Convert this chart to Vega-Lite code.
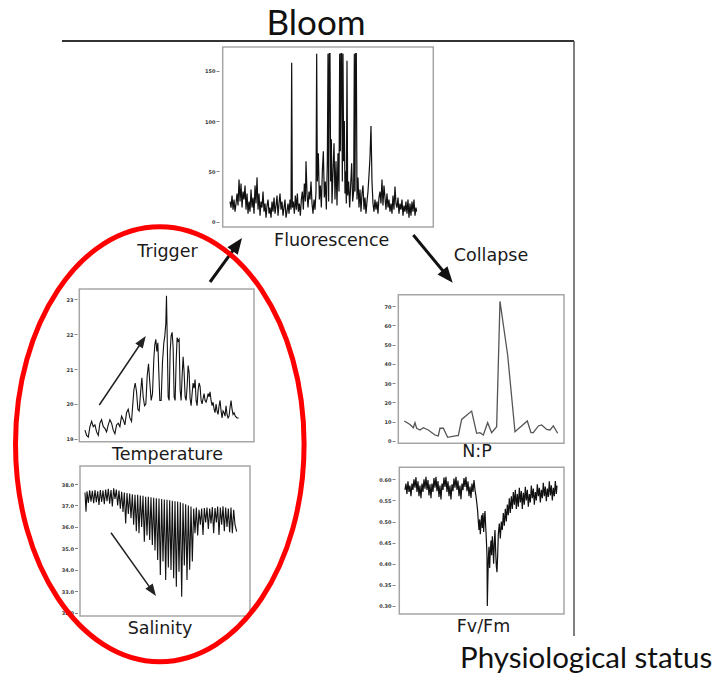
{
  "$schema": "https://vega.github.io/schema/vega-lite/v6.json",
  "width": 717,
  "height": 678,
  "autosize": {"type": "none"},
  "padding": 0,
  "background": "white",
  "config": {
    "view": {"stroke": null},
    "axis": {"grid": false, "domain": false, "tickSize": 3, "tickColor": "#666", "tickWidth": 0.8, "labelFontSize": 5, "labelFont": "DejaVu Sans", "labelFontWeight": "bold", "labelColor": "#3a3a3a", "labelPadding": 1}
  },
  "datasets": {
    "fluor": [
      {"t":90,"v":20},{"t":93,"v":14},{"t":96,"v":26},{"t":99,"v":12},{"t":102,"v":22},{"t":105,"v":10},{"t":108,"v":18},{"t":111,"v":28},{"t":114,"v":16},{"t":117,"v":42},{"t":120,"v":20},{"t":123,"v":38},{"t":126,"v":14},{"t":129,"v":30},{"t":132,"v":22},{"t":135,"v":36},{"t":138,"v":12},{"t":141,"v":28},{"t":144,"v":8},{"t":147,"v":20},{"t":150,"v":10},{"t":153,"v":32},{"t":156,"v":14},{"t":159,"v":24},{"t":162,"v":8},{"t":165,"v":36},{"t":168,"v":18},{"t":171,"v":44},{"t":174,"v":12},{"t":177,"v":28},{"t":180,"v":6},{"t":183,"v":20},{"t":186,"v":14},{"t":189,"v":30},{"t":192,"v":10},{"t":195,"v":18},{"t":198,"v":4},{"t":201,"v":16},{"t":204,"v":22},{"t":207,"v":8},{"t":210,"v":14},{"t":213,"v":4},{"t":216,"v":20},{"t":219,"v":10},{"t":222,"v":24},{"t":225,"v":8},{"t":228,"v":16},{"t":231,"v":26},{"t":234,"v":6},{"t":237,"v":18},{"t":240,"v":28},{"t":243,"v":12},{"t":246,"v":20},{"t":249,"v":6},{"t":252,"v":14},{"t":255,"v":22},{"t":258,"v":4},{"t":261,"v":10},{"t":264,"v":18},{"t":267,"v":8},{"t":270,"v":22},{"t":273,"v":12},{"t":275,"v":158},{"t":277,"v":14},{"t":280,"v":20},{"t":283,"v":8},{"t":286,"v":26},{"t":289,"v":12},{"t":292,"v":28},{"t":295,"v":10},{"t":298,"v":18},{"t":301,"v":6},{"t":304,"v":22},{"t":307,"v":30},{"t":310,"v":12},{"t":313,"v":38},{"t":316,"v":20},{"t":318,"v":60},{"t":321,"v":28},{"t":324,"v":14},{"t":327,"v":30},{"t":330,"v":22},{"t":333,"v":40},{"t":336,"v":18},{"t":339,"v":8},{"t":342,"v":22},{"t":345,"v":12},{"t":348,"v":30},{"t":350,"v":167},{"t":352,"v":40},{"t":355,"v":68},{"t":358,"v":22},{"t":361,"v":36},{"t":364,"v":14},{"t":367,"v":50},{"t":370,"v":70},{"t":373,"v":24},{"t":376,"v":40},{"t":379,"v":12},{"t":382,"v":60},{"t":384,"v":167},{"t":386,"v":20},{"t":388,"v":167},{"t":390,"v":167},{"t":392,"v":40},{"t":394,"v":82},{"t":396,"v":18},{"t":399,"v":50},{"t":402,"v":78},{"t":405,"v":22},{"t":408,"v":60},{"t":411,"v":16},{"t":414,"v":68},{"t":417,"v":30},{"t":419,"v":167},{"t":421,"v":70},{"t":423,"v":167},{"t":425,"v":167},{"t":427,"v":40},{"t":429,"v":167},{"t":431,"v":60},{"t":433,"v":100},{"t":435,"v":28},{"t":437,"v":50},{"t":439,"v":18},{"t":441,"v":160},{"t":443,"v":26},{"t":446,"v":40},{"t":449,"v":14},{"t":452,"v":36},{"t":455,"v":58},{"t":458,"v":20},{"t":461,"v":30},{"t":463,"v":167},{"t":465,"v":30},{"t":467,"v":167},{"t":469,"v":167},{"t":471,"v":22},{"t":474,"v":44},{"t":477,"v":14},{"t":480,"v":32},{"t":483,"v":10},{"t":486,"v":28},{"t":489,"v":36},{"t":492,"v":12},{"t":495,"v":24},{"t":498,"v":8},{"t":501,"v":20},{"t":504,"v":30},{"t":507,"v":46},{"t":510,"v":64},{"t":513,"v":95},{"t":516,"v":40},{"t":519,"v":18},{"t":522,"v":10},{"t":525,"v":22},{"t":528,"v":12},{"t":531,"v":20},{"t":534,"v":8},{"t":537,"v":24},{"t":540,"v":30},{"t":543,"v":18},{"t":546,"v":42},{"t":549,"v":16},{"t":552,"v":36},{"t":555,"v":24},{"t":558,"v":12},{"t":561,"v":28},{"t":564,"v":14},{"t":567,"v":22},{"t":570,"v":10},{"t":573,"v":18},{"t":576,"v":8},{"t":579,"v":26},{"t":582,"v":12},{"t":585,"v":35},{"t":588,"v":18},{"t":591,"v":14},{"t":594,"v":24},{"t":597,"v":8},{"t":600,"v":18},{"t":603,"v":12},{"t":606,"v":22},{"t":609,"v":6},{"t":612,"v":16},{"t":615,"v":10},{"t":618,"v":20},{"t":621,"v":8},{"t":624,"v":22},{"t":627,"v":4},{"t":630,"v":18},{"t":633,"v":6},{"t":636,"v":20},{"t":639,"v":10},{"t":642,"v":22},{"t":645,"v":6},{"t":648,"v":14},{"t":650,"v":10}
    ],
    "temp": [
      {"t":75,"v":19.25},{"t":80,"v":19.1},{"t":85,"v":19.05},{"t":90,"v":19.35},{"t":95,"v":19.5},{"t":100,"v":19.35},{"t":105,"v":19.4},{"t":110,"v":19.2},{"t":115,"v":19.1},{"t":120,"v":19.45},{"t":125,"v":19.55},{"t":130,"v":19.35},{"t":135,"v":19.3},{"t":140,"v":19.2},{"t":145,"v":19.4},{"t":150,"v":19.55},{"t":155,"v":19.45},{"t":160,"v":19.25},{"t":165,"v":19.15},{"t":170,"v":19.4},{"t":175,"v":19.45},{"t":180,"v":19.35},{"t":185,"v":19.65},{"t":190,"v":19.55},{"t":195,"v":19.4},{"t":200,"v":19.75},{"t":205,"v":19.85},{"t":210,"v":19.6},{"t":215,"v":19.5},{"t":218,"v":19.9},{"t":222,"v":20.4},{"t":226,"v":20.6},{"t":230,"v":20.35},{"t":234,"v":19.85},{"t":238,"v":19.8},{"t":242,"v":20.3},{"t":246,"v":20.75},{"t":250,"v":20.2},{"t":254,"v":19.95},{"t":258,"v":20.0},{"t":262,"v":20.8},{"t":266,"v":21.15},{"t":270,"v":20.6},{"t":274,"v":20.1},{"t":278,"v":20.3},{"t":282,"v":21.3},{"t":285,"v":21.7},{"t":288,"v":21.85},{"t":291,"v":21.5},{"t":294,"v":21.75},{"t":297,"v":20.9},{"t":300,"v":20.1},{"t":304,"v":20.1},{"t":308,"v":21.2},{"t":312,"v":21.75},{"t":315,"v":21.95},{"t":318,"v":22.3},{"t":320,"v":23.1},{"t":322,"v":22.0},{"t":325,"v":20.2},{"t":328,"v":20.1},{"t":331,"v":21.5},{"t":334,"v":21.95},{"t":337,"v":22.05},{"t":340,"v":21.6},{"t":343,"v":20.2},{"t":346,"v":20.1},{"t":349,"v":21.2},{"t":352,"v":21.9},{"t":355,"v":21.8},{"t":358,"v":21.85},{"t":361,"v":20.4},{"t":364,"v":20.1},{"t":367,"v":20.8},{"t":370,"v":21.35},{"t":373,"v":20.9},{"t":376,"v":20.2},{"t":379,"v":20.1},{"t":382,"v":20.5},{"t":385,"v":21.1},{"t":388,"v":20.9},{"t":391,"v":20.15},{"t":394,"v":19.95},{"t":397,"v":20.3},{"t":400,"v":20.6},{"t":403,"v":20.45},{"t":406,"v":20.7},{"t":409,"v":20.1},{"t":412,"v":19.95},{"t":415,"v":20.4},{"t":418,"v":20.6},{"t":421,"v":20.5},{"t":424,"v":20.1},{"t":427,"v":20.0},{"t":430,"v":20.15},{"t":433,"v":20.3},{"t":436,"v":20.1},{"t":439,"v":20.05},{"t":442,"v":20.15},{"t":445,"v":20.3},{"t":448,"v":20.2},{"t":451,"v":20.35},{"t":454,"v":20.1},{"t":457,"v":19.95},{"t":460,"v":20.05},{"t":463,"v":19.85},{"t":466,"v":19.75},{"t":469,"v":20.0},{"t":472,"v":19.8},{"t":475,"v":19.7},{"t":478,"v":19.95},{"t":481,"v":20.1},{"t":484,"v":19.8},{"t":487,"v":19.6},{"t":490,"v":19.8},{"t":493,"v":19.75},{"t":496,"v":19.65},{"t":499,"v":19.95},{"t":502,"v":19.7},{"t":505,"v":19.6},{"t":508,"v":19.65},{"t":511,"v":19.9},{"t":514,"v":20.1},{"t":517,"v":19.85},{"t":520,"v":19.7},{"t":523,"v":19.75},{"t":527,"v":19.65},{"t":532,"v":19.6},{"t":537,"v":19.6}
    ],
    "sal": [
      {"t":75,"v":37.6},{"t":78,"v":36.71},{"t":81,"v":37.66},{"t":85,"v":37.12},{"t":89,"v":37.7},{"t":93,"v":37.18},{"t":97,"v":37.68},{"t":101,"v":37.1},{"t":105,"v":37.72},{"t":109,"v":37.15},{"t":113,"v":37.66},{"t":117,"v":37.02},{"t":121,"v":37.72},{"t":125,"v":37.16},{"t":129,"v":37.7},{"t":133,"v":37.06},{"t":137,"v":37.74},{"t":141,"v":37.2},{"t":145,"v":37.78},{"t":149,"v":37.08},{"t":153,"v":37.72},{"t":157,"v":36.95},{"t":161,"v":37.8},{"t":165,"v":37.3},{"t":169,"v":37.74},{"t":173,"v":37.0},{"t":177,"v":37.7},{"t":181,"v":36.85},{"t":185,"v":37.64},{"t":189,"v":36.7},{"t":193,"v":37.6},{"t":197,"v":36.16},{"t":201,"v":37.58},{"t":205,"v":36.6},{"t":209,"v":37.55},{"t":213,"v":36.4},{"t":217,"v":37.52},{"t":221,"v":36.1},{"t":225,"v":37.5},{"t":229,"v":35.8},{"t":233,"v":37.5},{"t":237,"v":35.7},{"t":241,"v":37.46},{"t":245,"v":36.0},{"t":249,"v":37.45},{"t":253,"v":35.3},{"t":257,"v":37.4},{"t":261,"v":35.6},{"t":265,"v":37.4},{"t":269,"v":35.39},{"t":273,"v":37.38},{"t":277,"v":35.15},{"t":281,"v":37.36},{"t":285,"v":34.9},{"t":289,"v":37.34},{"t":293,"v":34.45},{"t":297,"v":37.32},{"t":301,"v":33.75},{"t":305,"v":37.3},{"t":309,"v":34.38},{"t":313,"v":37.28},{"t":317,"v":33.52},{"t":321,"v":37.26},{"t":325,"v":34.1},{"t":329,"v":37.24},{"t":333,"v":33.99},{"t":337,"v":37.22},{"t":341,"v":33.6},{"t":345,"v":37.2},{"t":349,"v":33.21},{"t":353,"v":37.18},{"t":357,"v":33.9},{"t":361,"v":37.15},{"t":365,"v":32.74},{"t":369,"v":37.1},{"t":373,"v":34.2},{"t":377,"v":37.05},{"t":381,"v":33.52},{"t":385,"v":37.0},{"t":389,"v":34.0},{"t":393,"v":36.95},{"t":397,"v":34.38},{"t":401,"v":36.85},{"t":405,"v":35.7},{"t":409,"v":36.9},{"t":413,"v":35.6},{"t":417,"v":36.8},{"t":421,"v":36.1},{"t":425,"v":36.85},{"t":429,"v":35.62},{"t":433,"v":36.88},{"t":437,"v":36.2},{"t":441,"v":36.9},{"t":445,"v":35.9},{"t":449,"v":36.85},{"t":453,"v":36.16},{"t":457,"v":36.92},{"t":461,"v":35.7},{"t":465,"v":36.88},{"t":469,"v":36.2},{"t":473,"v":36.95},{"t":477,"v":35.62},{"t":481,"v":36.9},{"t":485,"v":36.1},{"t":489,"v":36.96},{"t":493,"v":35.8},{"t":497,"v":36.9},{"t":501,"v":36.0},{"t":505,"v":36.85},{"t":509,"v":35.75},{"t":513,"v":36.9},{"t":517,"v":35.7},{"t":521,"v":36.8},{"t":525,"v":36.1},{"t":530,"v":35.78}
    ],
    "np": [
      {"t":118,"v":10.4},{"t":135,"v":8.6},{"t":145,"v":6.9},{"t":150,"v":9.5},{"t":155,"v":6.6},{"t":165,"v":5.7},{"t":175,"v":6.9},{"t":190,"v":5.7},{"t":210,"v":3.1},{"t":220,"v":2.6},{"t":225,"v":6.6},{"t":235,"v":6.6},{"t":248,"v":1.9},{"t":275,"v":2.8},{"t":280,"v":2.8},{"t":290,"v":11.2},{"t":320,"v":15.5},{"t":335,"v":4.0},{"t":345,"v":4.3},{"t":355,"v":3.1},{"t":368,"v":9.5},{"t":380,"v":4.3},{"t":395,"v":7.4},{"t":405,"v":72.5},{"t":428,"v":44.6},{"t":450,"v":4.8},{"t":487,"v":10.4},{"t":498,"v":4.3},{"t":505,"v":4.3},{"t":520,"v":7.8},{"t":530,"v":8.3},{"t":545,"v":6.0},{"t":555,"v":5.7},{"t":565,"v":7.8},{"t":578,"v":4.0}
    ],
    "fvfm": [
      {"t":120,"v":0.575},{"t":123,"v":0.59},{"t":126,"v":0.565},{"t":129,"v":0.595},{"t":132,"v":0.57},{"t":135,"v":0.585},{"t":138,"v":0.56},{"t":141,"v":0.59},{"t":144,"v":0.575},{"t":147,"v":0.6},{"t":150,"v":0.58},{"t":153,"v":0.605},{"t":156,"v":0.57},{"t":159,"v":0.595},{"t":162,"v":0.56},{"t":165,"v":0.585},{"t":168,"v":0.555},{"t":171,"v":0.59},{"t":174,"v":0.57},{"t":177,"v":0.6},{"t":180,"v":0.578},{"t":183,"v":0.606},{"t":186,"v":0.575},{"t":189,"v":0.598},{"t":192,"v":0.562},{"t":195,"v":0.588},{"t":198,"v":0.555},{"t":201,"v":0.59},{"t":204,"v":0.57},{"t":207,"v":0.603},{"t":210,"v":0.58},{"t":213,"v":0.606},{"t":216,"v":0.572},{"t":219,"v":0.596},{"t":222,"v":0.558},{"t":225,"v":0.585},{"t":228,"v":0.552},{"t":231,"v":0.59},{"t":234,"v":0.575},{"t":237,"v":0.604},{"t":240,"v":0.582},{"t":243,"v":0.606},{"t":246,"v":0.57},{"t":249,"v":0.595},{"t":252,"v":0.56},{"t":255,"v":0.585},{"t":258,"v":0.552},{"t":261,"v":0.588},{"t":264,"v":0.572},{"t":267,"v":0.602},{"t":270,"v":0.58},{"t":273,"v":0.606},{"t":276,"v":0.575},{"t":279,"v":0.597},{"t":282,"v":0.56},{"t":285,"v":0.585},{"t":288,"v":0.553},{"t":291,"v":0.59},{"t":294,"v":0.574},{"t":297,"v":0.603},{"t":300,"v":0.582},{"t":303,"v":0.606},{"t":306,"v":0.572},{"t":309,"v":0.595},{"t":312,"v":0.56},{"t":315,"v":0.583},{"t":318,"v":0.556},{"t":321,"v":0.59},{"t":324,"v":0.57},{"t":327,"v":0.598},{"t":330,"v":0.575},{"t":333,"v":0.56},{"t":336,"v":0.54},{"t":338,"v":0.525},{"t":340,"v":0.5},{"t":342,"v":0.48},{"t":344,"v":0.505},{"t":346,"v":0.47},{"t":348,"v":0.495},{"t":350,"v":0.515},{"t":352,"v":0.485},{"t":354,"v":0.52},{"t":356,"v":0.475},{"t":358,"v":0.505},{"t":360,"v":0.525},{"t":362,"v":0.49},{"t":364,"v":0.46},{"t":366,"v":0.42},{"t":367,"v":0.3},{"t":368,"v":0.34},{"t":370,"v":0.41},{"t":372,"v":0.44},{"t":374,"v":0.39},{"t":376,"v":0.43},{"t":378,"v":0.455},{"t":380,"v":0.42},{"t":382,"v":0.465},{"t":384,"v":0.44},{"t":386,"v":0.4},{"t":388,"v":0.45},{"t":390,"v":0.48},{"t":392,"v":0.43},{"t":394,"v":0.395},{"t":396,"v":0.38},{"t":398,"v":0.42},{"t":400,"v":0.47},{"t":403,"v":0.495},{"t":406,"v":0.46},{"t":409,"v":0.5},{"t":412,"v":0.48},{"t":415,"v":0.52},{"t":418,"v":0.49},{"t":421,"v":0.53},{"t":424,"v":0.5},{"t":427,"v":0.54},{"t":430,"v":0.515},{"t":433,"v":0.555},{"t":436,"v":0.52},{"t":439,"v":0.56},{"t":442,"v":0.53},{"t":445,"v":0.57},{"t":448,"v":0.54},{"t":451,"v":0.575},{"t":454,"v":0.53},{"t":457,"v":0.565},{"t":460,"v":0.535},{"t":463,"v":0.58},{"t":466,"v":0.545},{"t":469,"v":0.572},{"t":472,"v":0.53},{"t":475,"v":0.568},{"t":478,"v":0.54},{"t":481,"v":0.582},{"t":484,"v":0.55},{"t":487,"v":0.575},{"t":490,"v":0.535},{"t":493,"v":0.565},{"t":496,"v":0.545},{"t":499,"v":0.585},{"t":502,"v":0.555},{"t":505,"v":0.578},{"t":508,"v":0.54},{"t":511,"v":0.57},{"t":514,"v":0.55},{"t":517,"v":0.588},{"t":520,"v":0.56},{"t":523,"v":0.58},{"t":526,"v":0.545},{"t":529,"v":0.575},{"t":532,"v":0.555},{"t":535,"v":0.592},{"t":538,"v":0.56},{"t":541,"v":0.583},{"t":544,"v":0.548},{"t":547,"v":0.578},{"t":550,"v":0.558},{"t":553,"v":0.595},{"t":556,"v":0.562},{"t":559,"v":0.586},{"t":562,"v":0.55},{"t":565,"v":0.58},{"t":568,"v":0.56},{"t":571,"v":0.596},{"t":574,"v":0.565},{"t":576,"v":0.585}
    ]
  },
  "layer": [
    {
      "data": {"values": [{}]},
      "layer": [
        {"mark": {"type": "rect", "fillOpacity": 0, "stroke": "#a6a6a6", "strokeWidth": 1.5},
         "encoding": {"x": {"datum": 222.7, "type": "quantitative", "scale": {"domain": [0, 717], "range": [0, 717], "nice": false, "zero": false}, "axis": null}, "x2": {"datum": 433.3}, "y": {"datum": 47, "type": "quantitative", "scale": {"domain": [0, 678], "range": [0, 678], "nice": false, "zero": false}, "axis": null}, "y2": {"datum": 227}}},
        {"mark": {"type": "rect", "fillOpacity": 0, "stroke": "#a6a6a6", "strokeWidth": 1.5},
         "encoding": {"x": {"datum": 79.3, "type": "quantitative"}, "x2": {"datum": 254}, "y": {"datum": 289, "type": "quantitative"}, "y2": {"datum": 441.7}}},
        {"mark": {"type": "rect", "fillOpacity": 0, "stroke": "#a6a6a6", "strokeWidth": 1.5},
         "encoding": {"x": {"datum": 80, "type": "quantitative"}, "x2": {"datum": 250}, "y": {"datum": 466, "type": "quantitative"}, "y2": {"datum": 616}}},
        {"mark": {"type": "rect", "fillOpacity": 0, "stroke": "#a6a6a6", "strokeWidth": 1.5},
         "encoding": {"x": {"datum": 398.3, "type": "quantitative"}, "x2": {"datum": 564}, "y": {"datum": 294.7, "type": "quantitative"}, "y2": {"datum": 443.3}}},
        {"mark": {"type": "rect", "fillOpacity": 0, "stroke": "#a6a6a6", "strokeWidth": 1.5},
         "encoding": {"x": {"datum": 399.3, "type": "quantitative"}, "x2": {"datum": 564}, "y": {"datum": 467.3, "type": "quantitative"}, "y2": {"datum": 614}}},
        {"mark": {"type": "rule", "stroke": "#333", "strokeWidth": 2},
         "encoding": {"x": {"datum": 62, "type": "quantitative"}, "x2": {"datum": 574}, "y": {"datum": 41, "type": "quantitative"}}},
        {"mark": {"type": "rule", "stroke": "#555", "strokeWidth": 1.5},
         "encoding": {"x": {"datum": 574, "type": "quantitative"}, "y": {"datum": 41, "type": "quantitative"}, "y2": {"datum": 636}}},
        {"mark": {"type": "text", "font": "Lato", "fontSize": 35, "align": "center", "baseline": "alphabetic", "fill": "#111"},
         "encoding": {"x": {"datum": 316, "type": "quantitative"}, "y": {"datum": 35, "type": "quantitative"}, "text": {"value": "Bloom"}}},
        {"mark": {"type": "text", "font": "Lato", "fontSize": 29.5, "align": "left", "baseline": "alphabetic", "fill": "#111"},
         "encoding": {"x": {"datum": 460, "type": "quantitative"}, "y": {"datum": 668, "type": "quantitative"}, "text": {"value": "Physiological status"}}},
        {"mark": {"type": "text", "font": "DejaVu Sans", "fontSize": 17.5, "align": "center", "baseline": "middle", "fill": "#1a1a1a"},
         "encoding": {"x": {"datum": 331.7, "type": "quantitative"}, "y": {"datum": 240.7, "type": "quantitative"}, "text": {"value": "Fluorescence"}}},
        {"mark": {"type": "text", "font": "DejaVu Sans", "fontSize": 17.5, "align": "center", "baseline": "middle", "fill": "#1a1a1a"},
         "encoding": {"x": {"datum": 167.5, "type": "quantitative"}, "y": {"datum": 252.3, "type": "quantitative"}, "text": {"value": "Trigger"}}},
        {"mark": {"type": "text", "font": "DejaVu Sans", "fontSize": 17.5, "align": "center", "baseline": "middle", "fill": "#1a1a1a"},
         "encoding": {"x": {"datum": 491, "type": "quantitative"}, "y": {"datum": 256, "type": "quantitative"}, "text": {"value": "Collapse"}}},
        {"mark": {"type": "text", "font": "DejaVu Sans", "fontSize": 17.5, "align": "center", "baseline": "middle", "fill": "#1a1a1a"},
         "encoding": {"x": {"datum": 167.5, "type": "quantitative"}, "y": {"datum": 455, "type": "quantitative"}, "text": {"value": "Temperature"}}},
        {"mark": {"type": "text", "font": "DejaVu Sans", "fontSize": 17.5, "align": "center", "baseline": "middle", "fill": "#1a1a1a"},
         "encoding": {"x": {"datum": 160, "type": "quantitative"}, "y": {"datum": 629, "type": "quantitative"}, "text": {"value": "Salinity"}}},
        {"mark": {"type": "text", "font": "DejaVu Sans", "fontSize": 17.5, "align": "center", "baseline": "middle", "fill": "#1a1a1a"},
         "encoding": {"x": {"datum": 477, "type": "quantitative"}, "y": {"datum": 452, "type": "quantitative"}, "text": {"value": "N:P"}}},
        {"mark": {"type": "text", "font": "DejaVu Sans", "fontSize": 17.5, "align": "center", "baseline": "middle", "fill": "#1a1a1a"},
         "encoding": {"x": {"datum": 483.5, "type": "quantitative"}, "y": {"datum": 627, "type": "quantitative"}, "text": {"value": "Fv/Fm"}}},
        {"mark": {"type": "rule", "stroke": "#111", "strokeWidth": 3},
         "encoding": {"x": {"datum": 210, "type": "quantitative"}, "x2": {"datum": 237.3}, "y": {"datum": 282, "type": "quantitative"}, "y2": {"datum": 244.5}}},
        {"mark": {"type": "point", "shape": "M0,-1L0.8,1L-0.8,1Z", "size": 256, "filled": true, "color": "#111", "opacity": 1, "angle": 36},
         "encoding": {"x": {"datum": 237.3, "type": "quantitative"}, "y": {"datum": 244.5, "type": "quantitative"}}},
        {"mark": {"type": "rule", "stroke": "#111", "strokeWidth": 3},
         "encoding": {"x": {"datum": 413.3, "type": "quantitative"}, "x2": {"datum": 447.6}, "y": {"datum": 235, "type": "quantitative"}, "y2": {"datum": 276.5}}},
        {"mark": {"type": "point", "shape": "M0,-1L0.8,1L-0.8,1Z", "size": 256, "filled": true, "color": "#111", "opacity": 1, "angle": 140.4},
         "encoding": {"x": {"datum": 447.6, "type": "quantitative"}, "y": {"datum": 276.5, "type": "quantitative"}}},
        {"mark": {"type": "rule", "stroke": "#222", "strokeWidth": 1.5},
         "encoding": {"x": {"datum": 99.3, "type": "quantitative"}, "x2": {"datum": 142.4}, "y": {"datum": 405, "type": "quantitative"}, "y2": {"datum": 341}}},
        {"mark": {"type": "point", "shape": "M0,-1L0.75,1L-0.75,1Z", "size": 144, "filled": true, "color": "#222", "opacity": 1, "angle": 33.9},
         "encoding": {"x": {"datum": 142.4, "type": "quantitative"}, "y": {"datum": 341, "type": "quantitative"}}},
        {"mark": {"type": "rule", "stroke": "#222", "strokeWidth": 1.5},
         "encoding": {"x": {"datum": 111, "type": "quantitative"}, "x2": {"datum": 152.5}, "y": {"datum": 532.7, "type": "quantitative"}, "y2": {"datum": 591.1}}},
        {"mark": {"type": "point", "shape": "M0,-1L0.75,1L-0.75,1Z", "size": 144, "filled": true, "color": "#222", "opacity": 1, "angle": 144.6},
         "encoding": {"x": {"datum": 152.5, "type": "quantitative"}, "y": {"datum": 591.1, "type": "quantitative"}}}
      ]
    },
    {
      "data": {"name": "fluor"},
      "mark": {"type": "line", "color": "#111", "strokeWidth": 1.2},
      "encoding": {
        "x": {"field": "t", "type": "quantitative", "scale": {"domain": [68, 700], "range": [222.7, 433.3], "nice": false, "zero": false}, "axis": null},
        "y": {"field": "v", "type": "quantitative", "scale": {"domain": [-5.3, 173.6], "range": [227, 47], "nice": false, "zero": false}, "axis": {"orient": "left", "offset": -219, "values": [0, 50, 100, 150], "format": "d", "title": null}}
      }
    },
    {
      "data": {"name": "temp"},
      "mark": {"type": "line", "color": "#111", "strokeWidth": 1.1},
      "encoding": {
        "x": {"field": "t", "type": "quantitative", "scale": {"domain": [58, 583], "range": [79.3, 254], "nice": false, "zero": false}, "axis": null},
        "y": {"field": "v", "type": "quantitative", "scale": {"domain": [18.92, 23.29], "range": [441.7, 289], "nice": false, "zero": false}, "axis": {"orient": "left", "offset": -77, "values": [19, 20, 21, 22, 23], "format": "d", "title": null}}
      }
    },
    {
      "data": {"name": "sal"},
      "mark": {"type": "line", "color": "#111", "strokeWidth": 1.1},
      "encoding": {
        "x": {"field": "t", "type": "quantitative", "scale": {"domain": [60, 570], "range": [80, 250], "nice": false, "zero": false}, "axis": null},
        "y": {"field": "v", "type": "quantitative", "scale": {"domain": [31.84, 38.84], "range": [616, 466], "nice": false, "zero": false}, "axis": {"orient": "left", "offset": -77.5, "values": [32, 33, 34, 35, 36, 37, 38], "format": ".1f", "title": null}}
      }
    },
    {
      "data": {"name": "np"},
      "mark": {"type": "line", "color": "#555", "strokeWidth": 1.3},
      "encoding": {
        "x": {"field": "t", "type": "quantitative", "scale": {"domain": [100, 597], "range": [398.3, 564], "nice": false, "zero": false}, "axis": null},
        "y": {"field": "v", "type": "quantitative", "scale": {"domain": [-1.2, 75.9], "range": [443.3, 294.7], "nice": false, "zero": false}, "axis": {"orient": "left", "offset": -395, "values": [0, 10, 20, 30, 40, 50, 60, 70], "format": "d", "title": null}}
      }
    },
    {
      "data": {"name": "fvfm"},
      "mark": {"type": "line", "color": "#111", "strokeWidth": 1.2},
      "encoding": {
        "x": {"field": "t", "type": "quantitative", "scale": {"domain": [103, 597], "range": [399.3, 564], "nice": false, "zero": false}, "axis": null},
        "y": {"field": "v", "type": "quantitative", "scale": {"domain": [0.281, 0.6284], "range": [614, 467.3], "nice": false, "zero": false}, "axis": {"orient": "left", "offset": -395, "values": [0.3, 0.35, 0.4, 0.45, 0.5, 0.55, 0.6], "format": ".2f", "title": null}}
      }
    },
    {
      "data": {"values": [{}]},
      "mark": {"type": "point", "shape": "M-0.6634,0A0.6634,1,0,1,1,0.6634,0A0.6634,1,0,1,1,-0.6634,0Z", "size": 189225, "filled": false, "stroke": "#ff0000", "strokeWidth": 5, "opacity": 1},
      "encoding": {
        "x": {"datum": 159.8, "type": "quantitative", "scale": {"domain": [0, 717], "range": [0, 717], "nice": false, "zero": false}, "axis": null},
        "y": {"datum": 444.2, "type": "quantitative", "scale": {"domain": [0, 678], "range": [0, 678], "nice": false, "zero": false}, "axis": null}
      }
    }
  ],
  "resolve": {"scale": {"x": "independent", "y": "independent"}, "axis": {"x": "independent", "y": "independent"}}
}
